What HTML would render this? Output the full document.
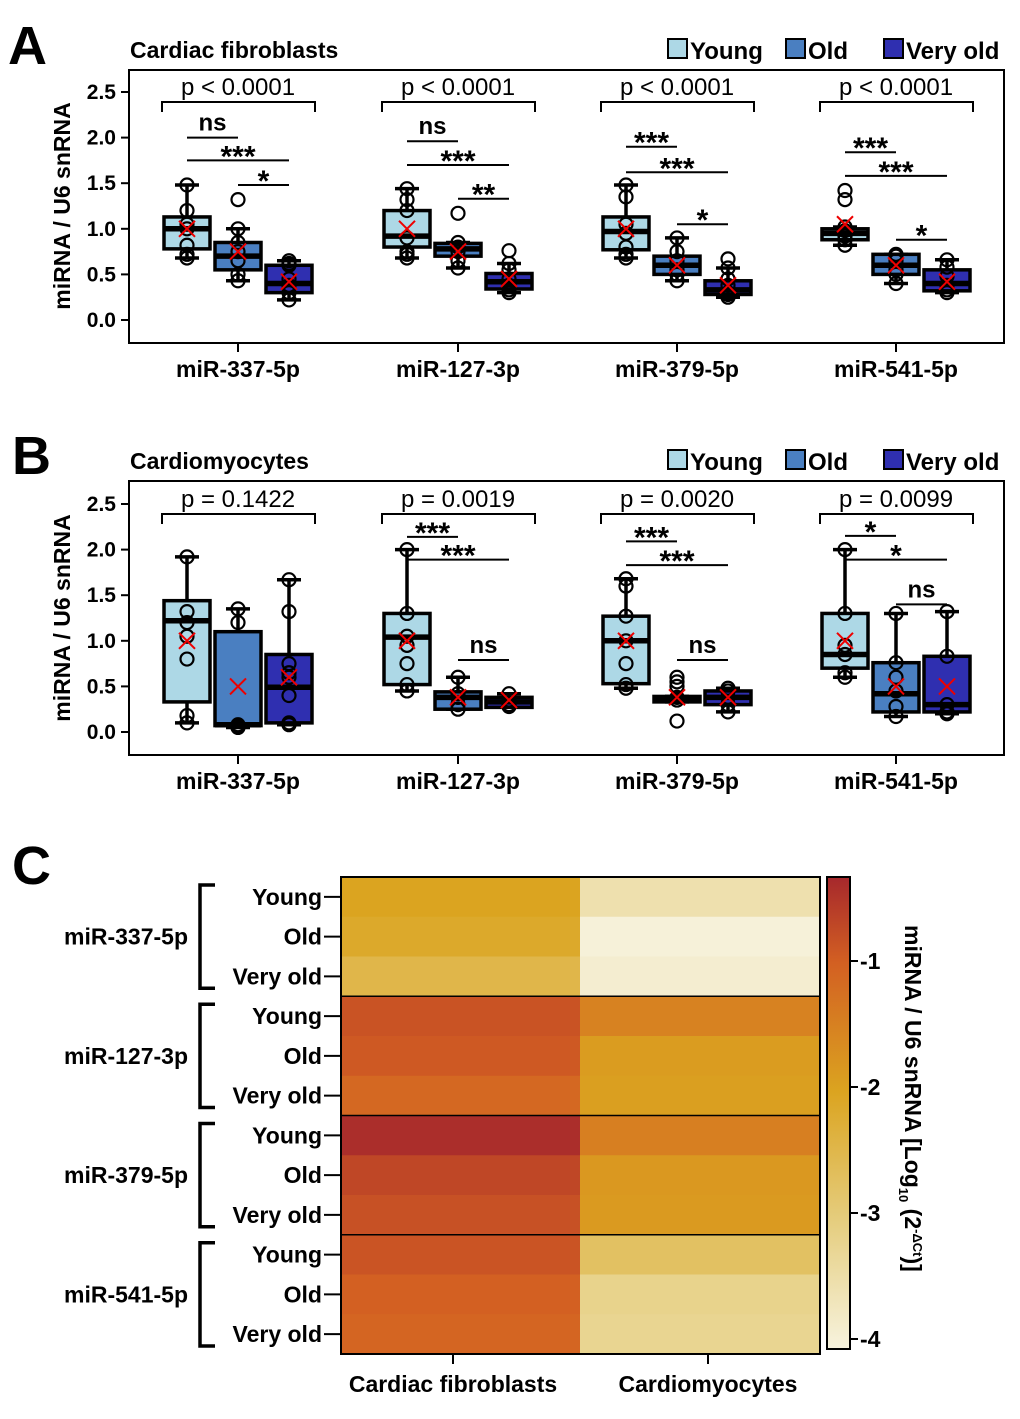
<!DOCTYPE html>
<html><head><meta charset="utf-8"><style>
html,body{margin:0;padding:0;background:#fff}
svg{display:block;font-family:"Liberation Sans",Arial,sans-serif}
</style></head><body>
<svg id="fig" width="1020" height="1419" viewBox="0 0 1020 1419" xmlns="http://www.w3.org/2000/svg">
<text x="8" y="64" font-size="54" font-weight="bold">A</text>
<text x="12" y="474" font-size="54" font-weight="bold">B</text>
<text x="12" y="884" font-size="54" font-weight="bold">C</text>
</svg>
<script>
const NS='http://www.w3.org/2000/svg';
const svg=document.getElementById('fig');
function mk(tag,attrs,parent){const e=document.createElementNS(NS,tag);for(const k in attrs)e.setAttribute(k,attrs[k]);(parent||svg).appendChild(e);return e;}

// ---------- DATA ----------
const mirnas=['miR-337-5p','miR-127-3p','miR-379-5p','miR-541-5p'];
const ageGroups=['Young','Old','Very old'];
const yTicks=[0,0.5,1.0,1.5,2.0,2.5];
const yTickLabels=['0.0','0.5','1.0','1.5','2.0','2.5'];
// box stats: [low whisker, q1, median, q3, high whisker, mean]
const boxA=[
 [[0.68,0.78,1.0,1.13,1.48,1.0],[0.43,0.55,0.70,0.85,1.0,0.75],[0.22,0.30,0.40,0.60,0.65,0.42]],
 [[0.68,0.80,0.92,1.20,1.44,1.0],[0.57,0.70,0.78,0.84,0.85,0.75],[0.30,0.34,0.42,0.51,0.62,0.45]],
 [[0.68,0.77,0.97,1.13,1.48,1.0],[0.43,0.50,0.60,0.70,0.90,0.60],[0.25,0.28,0.33,0.43,0.57,0.38]],
 [[0.82,0.88,0.95,1.00,1.02,1.05],[0.40,0.50,0.60,0.72,0.72,0.60],[0.30,0.32,0.40,0.55,0.66,0.42]]];
const ptsA=[
 [[0.68,0.72,0.82,1.0,1.05,1.2,1.48],[0.43,0.5,0.65,0.75,0.85,1.0,1.32],[0.22,0.3,0.38,0.45,0.6,0.62,0.65]],
 [[0.68,0.72,0.75,0.9,1.2,1.32,1.44],[0.57,0.65,0.75,0.8,0.85,1.17],[0.3,0.33,0.38,0.45,0.55,0.62,0.76]],
 [[0.68,0.72,0.8,0.95,1.05,1.35,1.48],[0.43,0.5,0.55,0.65,0.75,0.9],[0.25,0.28,0.3,0.38,0.45,0.57,0.67]],
 [[0.82,0.88,0.92,0.98,1.02,1.32,1.42],[0.4,0.5,0.55,0.65,0.7,0.72],[0.3,0.33,0.38,0.48,0.58,0.66]]];
const boxB=[
 [[0.10,0.33,1.22,1.44,1.92,1.0],[0.05,0.07,0.08,1.10,1.35,0.5],[0.08,0.10,0.49,0.85,1.67,0.6]],
 [[0.45,0.52,1.04,1.30,2.00,1.0],[0.25,0.25,0.38,0.44,0.60,0.38],[0.28,0.27,0.33,0.38,0.42,0.35]],
 [[0.48,0.53,1.00,1.27,1.68,1.0],[0.33,0.33,0.37,0.39,0.39,0.38],[0.22,0.30,0.38,0.45,0.48,0.38]],
 [[0.60,0.70,0.85,1.30,2.00,1.0],[0.17,0.22,0.42,0.76,1.30,0.5],[0.20,0.22,0.30,0.83,1.32,0.5]]];
const ptsB=[
 [[0.1,0.18,0.8,1.05,1.2,1.32,1.92],[0.05,0.06,0.07,0.08,1.2,1.35],[0.08,0.1,0.4,0.6,0.65,0.75,1.32,1.67]],
 [[0.45,0.52,0.75,0.95,1.05,1.3,2.0],[0.25,0.3,0.38,0.42,0.6],[0.28,0.3,0.35,0.42]],
 [[0.48,0.52,0.75,1.0,1.27,1.6,1.68],[0.12,0.35,0.38,0.5,0.55,0.6],[0.22,0.3,0.38,0.45,0.48]],
 [[0.6,0.65,0.85,0.95,1.3,2.0],[0.17,0.28,0.45,0.6,0.76,1.3],[0.2,0.22,0.3,0.83,1.32]]];
const pTextA=['p < 0.0001','p < 0.0001','p < 0.0001','p < 0.0001'];
const pTextB=['p = 0.1422','p = 0.0019','p = 0.0020','p = 0.0099'];
// pairwise: [fromBox,toBox,yValue,label]
const sigA=[
 [[0,1,2.0,'ns'],[0,2,1.75,'***'],[1,2,1.48,'*']],
 [[0,1,1.96,'ns'],[0,2,1.70,'***'],[1,2,1.33,'**']],
 [[0,1,1.90,'***'],[0,2,1.62,'***'],[1,2,1.05,'*']],
 [[0,1,1.84,'***'],[0,2,1.58,'***'],[1,2,0.88,'*']]];
const sigB=[
 [],
 [[0,1,2.14,'***'],[0,2,1.89,'***'],[1,2,0.79,'ns']],
 [[0,1,2.09,'***'],[0,2,1.83,'***'],[1,2,0.79,'ns']],
 [[0,1,2.15,'*'],[0,2,1.89,'*'],[1,2,1.40,'ns']]];
// heatmap values (log10), rows: mirna x age, cols: CF, CM
const heatCF=[-2.0,-2.12,-2.45,-0.85,-0.92,-1.12,-0.4,-0.7,-0.82,-0.86,-1.0,-1.08];
const heatCM=[-3.5,-3.95,-3.85,-1.5,-1.88,-1.92,-1.45,-1.82,-1.86,-2.7,-3.15,-3.2];
const heatCols=['Cardiac fibroblasts','Cardiomyocytes'];
const cbTicks=[-1,-2,-3,-4];

// ---------- BOX PANELS ----------
const boxColors=['#add8e6','#4a7fc1','#2f2fb0'];
const groupX=[238,458,677,896];
function drawPanel(o){
  const g=mk('g',{});
  const y=v=>o.y0-v*91.2;
  const bx=(gi,bi)=>groupX[gi]+(bi-1)*51;
  const fr=mk('rect',{x:129,y:o.top,width:875,height:o.bottom-o.top,fill:'none',stroke:'#000','stroke-width':2},g);
  
  const t=mk('text',{x:130,y:o.top-12,'font-size':23,'font-weight':'bold'},g);t.textContent=o.title;
  
  const lx=[668,786,884];
  ageGroups.forEach((a,i)=>{
    const lg=mk('g',{},g);
    mk('rect',{x:lx[i],y:o.top-31,width:19,height:19,fill:boxColors[i],stroke:'#000','stroke-width':2},lg);
    const tt=mk('text',{x:lx[i]+22,y:o.top-11,'font-size':24,'font-weight':'bold'},lg);tt.textContent=a;
  });
  yTicks.forEach((v,i)=>{
    mk('line',{x1:121,x2:129,y1:y(v),y2:y(v),stroke:'#000','stroke-width':2},g);
    const tl=mk('text',{x:116,y:y(v)+7,'font-size':21,'font-weight':'bold','text-anchor':'end'},g);tl.textContent=yTickLabels[i];
    
  });
  const cy=(y(0)+y(2.5))/2;
  const yt=mk('text',{x:70,y:cy,'font-size':23,'font-weight':'bold','text-anchor':'middle',transform:`rotate(-90 70 ${cy})`},g);
  yt.textContent='miRNA / U6 snRNA';
  mirnas.forEach((m,gi)=>{
    mk('line',{x1:groupX[gi],x2:groupX[gi],y1:o.bottom,y2:o.bottom+9,stroke:'#000','stroke-width':2},g);
    const xl=mk('text',{x:groupX[gi],y:o.bottom+34,'font-size':23,'font-weight':'bold','text-anchor':'middle'},g);
    xl.textContent=m;
    o.box[gi].forEach((s,bi)=>{
      const cx=bx(gi,bi);
      const bg=mk('g',{},g);
      mk('line',{x1:cx,x2:cx,y1:y(s[0]),y2:y(s[4]),stroke:'#000','stroke-width':3.5},bg);
      mk('line',{x1:cx-12,x2:cx+12,y1:y(s[0]),y2:y(s[0]),stroke:'#000','stroke-width':3.5},bg);
      mk('line',{x1:cx-12,x2:cx+12,y1:y(s[4]),y2:y(s[4]),stroke:'#000','stroke-width':3.5},bg);
      const lo=Math.min(s[1],s[3]),hi=Math.max(s[1],s[3]);
      mk('rect',{x:cx-23,y:y(hi),width:46,height:Math.max(1,y(lo)-y(hi)),fill:boxColors[bi],stroke:'#000','stroke-width':3.5},bg);
      mk('line',{x1:cx-23,x2:cx+23,y1:y(s[2]),y2:y(s[2]),stroke:'#000','stroke-width':5.5},bg);
      o.pts[gi][bi].forEach(v=>{
        const c=mk('circle',{cx:cx,cy:y(v),r:6.5,fill:'none',stroke:'#000','stroke-width':2.2},bg);
        
      });
      const my=y(s[5]);
      mk('path',{d:`M${cx-8} ${my-8}L${cx+8} ${my+8}M${cx+8} ${my-8}L${cx-8} ${my+8}`,stroke:'#e00','stroke-width':2},bg);
    });
    const by=y(2.39);
    const pb=mk('path',{d:`M${groupX[gi]-76} ${by+10}V${by}H${groupX[gi]+77}V${by+10}`,fill:'none',stroke:'#000','stroke-width':2},g);
    
    const pt=mk('text',{x:groupX[gi],y:by-7,'font-size':24,'text-anchor':'middle'},g);pt.textContent=o.ptext[gi];
    
    o.sig[gi].forEach(sg=>{
      const x1=bx(gi,sg[0]),x2=bx(gi,sg[1]),ly=y(sg[2]);
      mk('line',{x1:x1,x2:x2,y1:ly,y2:ly,stroke:'#000','stroke-width':2},g);
      const st=mk('text',{x:(x1+x2)/2,y:sg[3]==='ns'?ly-7:ly+6,'font-size':sg[3]==='ns'?24:30,'font-weight':'bold','text-anchor':'middle'},g);
      st.textContent=sg[3];
    });
  });
}
drawPanel({name:'panel-a-boxplot',title:'Cardiac fibroblasts',top:70,bottom:343,y0:320,box:boxA,pts:ptsA,ptext:pTextA,sig:sigA});
drawPanel({name:'panel-b-boxplot',title:'Cardiomyocytes',top:481,bottom:755,y0:732,box:boxB,pts:ptsB,ptext:pTextB,sig:sigB});

// ---------- HEATMAP ----------
const stops=[[-4,[247,243,222]],[-3,[229,205,126]],[-2,[219,164,32]],[-1,[211,96,34]],[-0.33,[166,40,44]]];
function cmap(v){
  v=Math.max(-4,Math.min(-0.33,v));
  for(let i=0;i<stops.length-1;i++){const a=stops[i],b=stops[i+1];
    if(v<=b[0]){const t=(v-a[0])/(b[0]-a[0]);return 'rgb('+a[1].map((c,k)=>Math.round(c+(b[1][k]-c)*t)).join(',')+')';}}
  return 'rgb(166,40,44)';
}
const hx0=341,hx1=580,hx2=820,hy0=877,rh=39.75;
const hg=mk('g',{});
[heatCF,heatCM].forEach((col,ci)=>{
  col.forEach((v,ri)=>{
    const r=mk('rect',{x:ci?hx1:hx0,y:hy0+ri*rh,width:ci?hx2-hx1:hx1-hx0,height:rh+0.5,fill:cmap(v)},hg);
    
  });
});
for(let k=1;k<4;k++)mk('line',{x1:hx0,x2:hx2,y1:hy0+k*3*rh,y2:hy0+k*3*rh,stroke:'#000','stroke-width':1.5},hg);
mk('rect',{x:hx0,y:hy0,width:hx2-hx0,height:12*rh,fill:'none',stroke:'#000','stroke-width':2},hg);
mirnas.forEach((m,mi)=>{
  ageGroups.forEach((a,ai)=>{
    const ry=hy0+(mi*3+ai+0.5)*rh;
    mk('line',{x1:324,x2:341,y1:ry,y2:ry,stroke:'#000','stroke-width':2},hg);
    const t=mk('text',{x:322,y:ry+8,'font-size':23,'font-weight':'bold','text-anchor':'end'},hg);t.textContent=a;
    
  });
  const top=hy0+mi*3*rh+8,bot=hy0+(mi+1)*3*rh-8;
  const br=mk('path',{d:`M215 ${top}H200V${bot}H215`,fill:'none',stroke:'#000','stroke-width':3.5},hg);
  
  const gl=mk('text',{x:188,y:hy0+(mi*3+1.5)*rh+8,'font-size':23,'font-weight':'bold','text-anchor':'end'},hg);gl.textContent=m;
  
});
const colX=[453,708];
heatCols.forEach((c,i)=>{
  mk('line',{x1:colX[i],x2:colX[i],y1:hy0+12*rh,y2:hy0+12*rh+10,stroke:'#000','stroke-width':2},hg);
  const t=mk('text',{x:colX[i],y:1392,'font-size':23,'font-weight':'bold','text-anchor':'middle'},hg);t.textContent=c;
  
});
const defs=mk('defs',{});
const lg=mk('linearGradient',{id:'cb',x1:0,y1:1,x2:0,y2:0},defs);
stops.forEach(s=>{mk('stop',{offset:((s[0]+4)/3.67).toFixed(3),'stop-color':'rgb('+s[1].join(',')+')'},lg);});
const cbTop=877,cbBot=1349,cbY=v=>1339-(v+4)*126;
const cb=mk('rect',{x:827,y:cbTop,width:23,height:cbBot-cbTop,fill:'url(#cb)',stroke:'#000','stroke-width':2},hg);

cbTicks.forEach(v=>{
  mk('line',{x1:850,x2:858,y1:cbY(v),y2:cbY(v),stroke:'#000','stroke-width':2},hg);
  const t=mk('text',{x:860,y:cbY(v)+8,'font-size':23,'font-weight':'bold'},hg);t.textContent=String(v);
  
});
const ct=mk('text',{x:0,y:0,'font-size':23,'font-weight':'bold',transform:'translate(905 925) rotate(90)'},hg);

ct.innerHTML='miRNA / U6 snRNA [Log<tspan font-size="13" dy="6">10</tspan><tspan dy="-6"> (2</tspan><tspan font-size="13" dy="-8">-ΔCt</tspan><tspan dy="8">)]</tspan>';
</script>
</body></html>
